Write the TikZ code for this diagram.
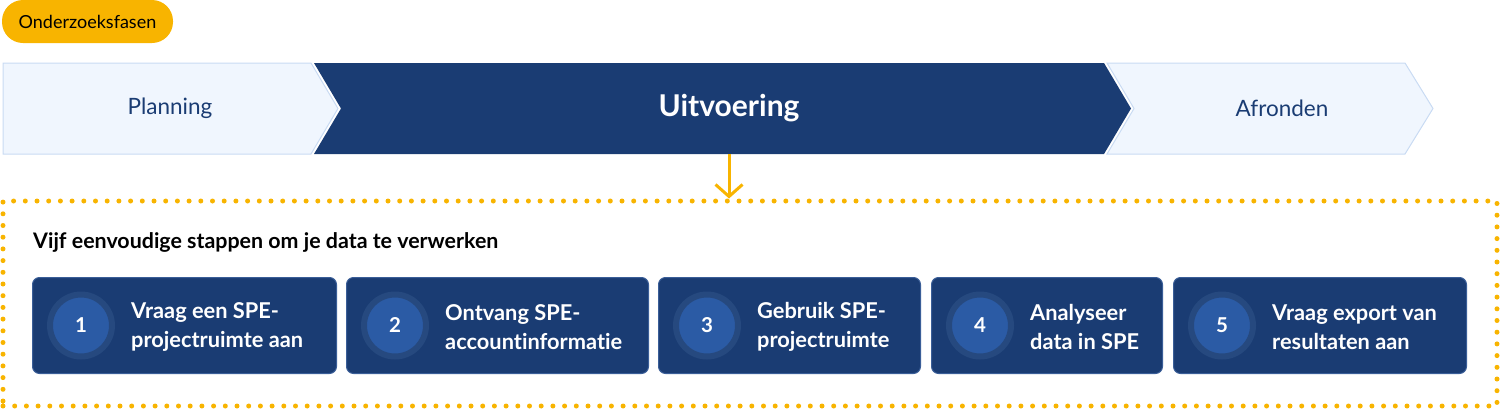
\documentclass[tikz,border=0pt]{standalone}
\usepackage{fontspec}
\setmainfont{Lato}[Ligatures=NoCommon]
\usetikzlibrary{positioning,arrows.meta}
\definecolor{navy}{HTML}{1A3C73}
\definecolor{lightfill}{HTML}{F0F6FE}
\definecolor{lightline}{HTML}{C9DBF3}
\definecolor{amber}{HTML}{F8B400}
\definecolor{ringcol}{HTML}{26497F}
\definecolor{ringfill}{HTML}{2B5BA5}
\definecolor{boxline}{HTML}{3A5E98}

\begin{document}
\begin{tikzpicture}[x=1pt, y=-1pt,
phase/.style={font=\fontsize{22.5}{26}\selectfont, text=navy},
pill/.style={rectangle, rounded corners=21pt, fill=amber, minimum width=171pt, minimum height=43pt, font=\fontsize{18}{21}\selectfont},
frame/.style={rectangle, draw=amber, line width=5pt, line cap=round, dash pattern=on 0pt off 11.7pt, minimum width=1494pt, minimum height=205pt},
stepbox/.style={rectangle, rounded corners=7pt, fill=navy, draw=boxline, line width=1pt, minimum height=96pt},
ring/.style={circle, minimum size=62pt, line width=6pt, draw=ringcol, fill=ringfill, text=white, font=\fontsize{20.5}{24}\selectfont\bfseries},
steptext/.style={anchor=west, align=left, inner sep=0pt, text=white, font=\fontsize{21.8}{29}\selectfont\bfseries}
]
    \useasboundingbox (0,0) rectangle (1500,410);

    %Phases
    \fill[lightfill] (3,63) -- (311,63) -- (338,108.5) -- (311,154) -- (3,154) -- cycle;
    \draw[lightline, line width=1pt] (3,63) -- (311,63) -- (338,108.5) -- (311,154) -- (3,154) -- cycle;
    \fill[navy] (314,63) -- (1104,63) -- (1131,108.5) -- (1104,154) -- (314,154) -- (341,108.5) -- cycle;
    \filldraw[fill=lightfill, draw=lightline, line width=1pt]
        (1107,63) -- (1405,63) -- (1433,108.5) -- (1405,154) -- (1107,154) -- (1134,108.5) -- cycle;

    \node[pill] (fasen) at (87.5,21.5) {Onderzoeksfasen};
    \node[phase] (plan) at (170,108.5) {Planning};
    \node[font=\fontsize{30}{34}\selectfont\bfseries, text=white] (uit) at (729,108.5) {Uitvoering};
    \node[phase] (afr) at (1282,108.5) {Afronden};
    \coordinate (uitbot) at (729,154);

    %Steps
    \node[frame] (kader) at (750,303.5) {};
    \node[anchor=west, inner sep=0pt, font=\fontsize{21.4}{25}\selectfont\bfseries] (kop) at (33,242.5)
        {Vijf eenvoudige stappen om je data te verwerken};

    \node[stepbox, anchor=west, minimum width=304pt] (s1) at (32,325.5) {};
    \node[stepbox, minimum width=302pt] (s2) [right=9pt of s1] {};
    \node[stepbox, minimum width=262pt] (s3) [right=9pt of s2] {};
    \node[stepbox, minimum width=231pt] (s4) [right=10pt of s3] {};
    \node[stepbox, minimum width=293pt] (s5) [right=10pt of s4] {};

    \foreach \i/\txt in {1/{Vraag een SPE-\\projectruimte aan},
                         2/{Ontvang SPE-\\accountinformatie},
                         3/{Gebruik SPE-\\projectruimte},
                         4/{Analyseer\\data in SPE},
                         5/{Vraag export van\\resultaten aan}} {
        \node[ring] (n\i) at ([xshift=49pt]s\i.west) {\i};
        \node[steptext] (t\i) at ([xshift=99pt, yshift=-1.5pt]s\i.west) {\txt};
    }

    %Lines
    \draw[amber, line width=3pt, -{Straight Barb[length=12pt, width=27pt]}]
        (uitbot) -- (uitbot |- kader.north);
\end{tikzpicture}
\end{document}
